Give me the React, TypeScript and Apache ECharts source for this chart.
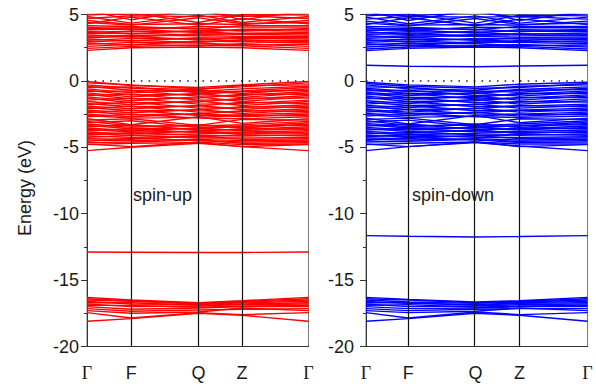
import React, { useEffect, useRef } from "react";
import * as echarts from "echarts";

// k-path labels and positions (fraction of path length) for each panel
const K_LABELS = ["Γ", "F", "Q", "Z", "Γ"];
const K_UP = [0, 0.2, 0.503, 0.7, 1];
const K_DOWN = [0, 0.191, 0.494, 0.693, 1];

// Band energies (eV) at Γ, F, Q, Z, Γ — spin-up
const UP_CONDUCTION = [
  [2.3, 2.5, 2.55, 2.5, 2.3],
  [2.45, 2.6, 2.7, 2.65, 2.45],
  [2.6, 2.75, 2.65, 2.8, 2.6],
  [2.75, 2.9, 2.85, 2.7, 2.75],
  [2.85, 2.7, 3.0, 2.95, 2.85],
  [2.95, 3.05, 2.9, 3.1, 2.95],
  [3.05, 3.2, 3.15, 3.0, 3.05],
  [3.15, 3.0, 3.25, 3.2, 3.15],
  [3.25, 3.35, 3.1, 3.3, 3.25],
  [3.35, 3.45, 3.4, 3.35, 3.35],
  [3.45, 3.3, 3.55, 3.5, 3.45],
  [3.55, 3.6, 3.45, 3.6, 3.55],
  [3.65, 3.75, 3.7, 3.55, 3.65],
  [3.75, 3.55, 3.8, 3.8, 3.75],
  [3.85, 3.9, 3.65, 3.9, 3.85],
  [3.95, 4.0, 3.95, 3.75, 3.95],
  [4.05, 3.85, 4.1, 4.05, 4.05],
  [4.15, 4.1, 3.9, 4.15, 4.15],
  [4.3, 4.8, 4.2, 4.7, 4.3],
  [4.4, 4.2, 4.75, 4.3, 4.4],
  [4.55, 4.25, 4.3, 4.25, 4.55],
  [4.7, 4.9, 4.85, 4.9, 4.7],
  [4.85, 4.35, 4.95, 4.4, 4.85],
  [4.95, 5.1, 4.4, 5.0, 4.95],
  [5.1, 4.95, 5.2, 4.85, 5.1],
  [5.3, 4.6, 5.4, 4.6, 5.3],
];
const UP_VALENCE = [
  [-0.05, -0.35, -0.5, -0.3, -0.05],
  [-0.15, -0.3, -0.6, -0.45, -0.15],
  [-0.3, -0.55, -0.65, -0.35, -0.3],
  [-0.4, -0.7, -0.8, -0.6, -0.4],
  [-0.5, -0.45, -0.9, -0.75, -0.5],
  [-0.6, -0.9, -0.7, -0.95, -0.6],
  [-0.7, -1.05, -1.0, -0.8, -0.7],
  [-0.8, -0.75, -1.15, -1.1, -0.8],
  [-0.9, -1.2, -0.95, -1.25, -0.9],
  [-1.0, -1.35, -1.3, -1.0, -1.0],
  [-1.1, -1.0, -1.45, -1.4, -1.1],
  [-1.2, -1.5, -1.2, -1.55, -1.2],
  [-1.3, -1.65, -1.6, -1.3, -1.3],
  [-1.45, -1.3, -1.75, -1.7, -1.45],
  [-1.55, -1.8, -1.5, -1.85, -1.55],
  [-1.7, -1.95, -1.9, -1.6, -1.7],
  [-1.8, -1.6, -2.05, -2.0, -1.8],
  [-1.9, -2.1, -1.85, -2.15, -1.9],
  [-2.0, -2.25, -2.2, -1.95, -2.0],
  [-2.1, -1.9, -2.35, -2.3, -2.1],
  [-2.2, -2.4, -2.15, -2.45, -2.2],
  [-2.3, -2.55, -2.5, -2.25, -2.3],
  [-2.4, -2.2, -2.6, -2.55, -2.4],
  [-2.5, -2.7, -2.45, -2.7, -2.5],
  [-2.6, -2.8, -2.75, -2.6, -2.6],
  [-2.7, -2.5, -2.8, -2.85, -2.7],
  [-2.85, -3.3, -2.7, -3.2, -2.85],
  [-2.95, -2.85, -3.35, -2.9, -2.95],
  [-3.05, -3.4, -3.4, -3.3, -3.05],
  [-3.15, -3.0, -3.5, -3.45, -3.15],
  [-3.25, -3.5, -3.3, -3.55, -3.25],
  [-3.35, -3.6, -3.6, -3.4, -3.35],
  [-3.45, -3.3, -3.7, -3.65, -3.45],
  [-3.55, -3.75, -3.55, -3.75, -3.55],
  [-3.65, -3.85, -3.8, -3.6, -3.65],
  [-3.75, -3.6, -3.9, -3.85, -3.75],
  [-3.85, -4.0, -3.75, -4.0, -3.85],
  [-3.95, -4.1, -4.0, -3.9, -3.95],
  [-4.05, -3.9, -4.1, -4.15, -4.05],
  [-4.15, -4.25, -4.2, -4.05, -4.15],
  [-4.25, -4.1, -4.3, -4.3, -4.25],
  [-4.35, -4.4, -4.15, -4.4, -4.35],
  [-4.45, -4.5, -4.4, -4.5, -4.45],
  [-4.55, -4.3, -4.5, -4.6, -4.55],
  [-4.65, -4.6, -4.45, -4.7, -4.65],
  [-4.75, -4.95, -4.6, -4.8, -4.75],
  [-4.8, -4.7, -4.65, -4.95, -4.8],
  [-5.25, -5.0, -4.7, -4.95, -5.25],
];
const UP_SEMICORE = [[-12.88, -12.9, -12.92, -12.92, -12.88]];
const UP_DEEP = [
  [-16.3, -16.5, -16.7, -16.55, -16.3],
  [-16.4, -16.55, -16.75, -16.6, -16.4],
  [-16.5, -16.6, -16.8, -16.65, -16.5],
  [-16.6, -16.8, -16.85, -16.7, -16.6],
  [-16.7, -16.7, -16.9, -16.8, -16.7],
  [-16.8, -17.0, -16.95, -16.85, -16.8],
  [-16.9, -16.9, -17.05, -16.95, -16.9],
  [-17.0, -17.2, -17.1, -17.0, -17.0],
  [-17.15, -17.35, -17.25, -17.2, -17.15],
  [-17.3, -17.5, -17.4, -17.1, -17.3],
  [-17.45, -17.85, -17.45, -17.6, -17.45],
  [-18.1, -17.9, -17.5, -17.65, -18.1],
];

// Spin-down
const DOWN_CONDUCTION = [
  [2.28, 2.45, 2.55, 2.5, 2.28],
  [2.4, 2.55, 2.65, 2.6, 2.4],
  [2.55, 2.7, 2.6, 2.75, 2.55],
  [2.7, 2.85, 2.8, 2.65, 2.7],
  [2.8, 2.65, 2.95, 2.9, 2.8],
  [2.9, 3.0, 2.85, 3.05, 2.9],
  [3.0, 3.15, 3.1, 2.95, 3.0],
  [3.1, 2.95, 3.2, 3.15, 3.1],
  [3.2, 3.3, 3.05, 3.25, 3.2],
  [3.3, 3.4, 3.35, 3.3, 3.3],
  [3.4, 3.25, 3.5, 3.45, 3.4],
  [3.5, 3.55, 3.4, 3.55, 3.5],
  [3.6, 3.7, 3.65, 3.5, 3.6],
  [3.7, 3.5, 3.75, 3.75, 3.7],
  [3.8, 3.85, 3.6, 3.85, 3.8],
  [3.9, 3.95, 3.9, 3.7, 3.9],
  [4.0, 3.8, 4.05, 4.0, 4.0],
  [4.1, 4.05, 3.85, 4.1, 4.1],
  [4.25, 4.75, 4.15, 4.65, 4.25],
  [4.35, 4.15, 4.7, 4.25, 4.35],
  [4.5, 4.2, 4.25, 4.2, 4.5],
  [4.65, 4.85, 4.8, 4.85, 4.65],
  [4.8, 4.3, 4.9, 4.35, 4.8],
  [4.9, 5.05, 4.35, 4.95, 4.9],
  [5.05, 4.9, 5.15, 4.8, 5.05],
  [5.25, 4.55, 5.35, 4.55, 5.25],
];
const DOWN_GAPSTATE = [[1.18, 1.1, 1.06, 1.12, 1.18]];
const DOWN_VALENCE = [
  [-0.1, -0.3, -0.45, -0.25, -0.1],
  [-0.2, -0.4, -0.55, -0.5, -0.2],
  [-0.3, -0.6, -0.7, -0.4, -0.3],
  [-0.45, -0.5, -0.85, -0.65, -0.45],
  [-0.55, -0.8, -0.75, -0.85, -0.55],
  [-0.65, -0.95, -0.95, -0.7, -0.65],
  [-0.75, -0.7, -1.1, -1.0, -0.75],
  [-0.85, -1.1, -0.9, -1.15, -0.85],
  [-0.95, -1.25, -1.25, -0.95, -0.95],
  [-1.05, -0.95, -1.35, -1.3, -1.05],
  [-1.15, -1.4, -1.15, -1.45, -1.15],
  [-1.25, -1.55, -1.5, -1.25, -1.25],
  [-1.35, -1.25, -1.65, -1.6, -1.35],
  [-1.5, -1.7, -1.4, -1.75, -1.5],
  [-1.6, -1.85, -1.8, -1.55, -1.6],
  [-1.75, -1.55, -1.95, -1.9, -1.75],
  [-1.85, -2.0, -1.75, -2.05, -1.85],
  [-1.95, -2.15, -2.1, -1.85, -1.95],
  [-2.05, -1.85, -2.25, -2.2, -2.05],
  [-2.15, -2.35, -2.05, -2.35, -2.15],
  [-2.25, -2.45, -2.4, -2.2, -2.25],
  [-2.35, -2.15, -2.5, -2.5, -2.35],
  [-2.45, -2.6, -2.35, -2.65, -2.45],
  [-2.55, -2.75, -2.65, -2.5, -2.55],
  [-2.65, -2.45, -2.7, -2.75, -2.65],
  [-2.8, -3.25, -2.6, -3.15, -2.8],
  [-2.9, -2.8, -3.3, -2.85, -2.9],
  [-3.0, -3.35, -3.35, -3.25, -3.0],
  [-3.1, -2.95, -3.45, -3.4, -3.1],
  [-3.2, -3.45, -3.25, -3.5, -3.2],
  [-3.3, -3.55, -3.55, -3.35, -3.3],
  [-3.4, -3.25, -3.65, -3.6, -3.4],
  [-3.5, -3.7, -3.5, -3.7, -3.5],
  [-3.6, -3.8, -3.75, -3.55, -3.6],
  [-3.7, -3.55, -3.85, -3.8, -3.7],
  [-3.8, -3.95, -3.7, -3.95, -3.8],
  [-3.9, -4.05, -3.95, -3.85, -3.9],
  [-4.0, -3.85, -4.05, -4.1, -4.0],
  [-4.1, -4.2, -4.15, -4.0, -4.1],
  [-4.2, -4.05, -4.25, -4.25, -4.2],
  [-4.3, -4.35, -4.1, -4.35, -4.3],
  [-4.4, -4.45, -4.35, -4.45, -4.4],
  [-4.5, -4.25, -4.45, -4.55, -4.5],
  [-4.6, -4.55, -4.4, -4.65, -4.6],
  [-4.75, -4.95, -4.6, -4.75, -4.75],
  [-4.8, -4.7, -4.6, -4.95, -4.8],
  [-5.25, -4.95, -4.65, -4.9, -5.25],
];
const DOWN_SEMICORE = [[-11.65, -11.7, -11.75, -11.72, -11.65]];
const DOWN_DEEP = [
  [-16.3, -16.45, -16.65, -16.55, -16.3],
  [-16.4, -16.5, -16.7, -16.6, -16.4],
  [-16.5, -16.65, -16.75, -16.65, -16.5],
  [-16.6, -16.75, -16.85, -16.7, -16.6],
  [-16.7, -16.7, -16.9, -16.75, -16.7],
  [-16.8, -17.0, -16.95, -16.85, -16.8],
  [-16.9, -16.85, -17.05, -16.95, -16.9],
  [-17.0, -17.15, -17.1, -17.0, -17.0],
  [-17.15, -17.3, -17.2, -17.15, -17.15],
  [-17.3, -17.45, -17.35, -17.1, -17.3],
  [-17.45, -17.85, -17.4, -17.6, -17.45],
  [-18.1, -17.9, -17.5, -17.65, -18.1],
];

const Y_MIN = -20;
const Y_MAX = 5;
const Y_STEP = 5;

const TEXT_COLOR = "#1a1a1a";
const FONT = "Liberation Sans";

function bandSeries(bands: number[][], k: number[], idx: number, color: string) {
  return bands.map((b) => ({
    type: "line",
    xAxisIndex: idx,
    yAxisIndex: idx,
    data: b.map((e, i) => [k[i], e]),
    symbol: "none",
    silent: true,
    clip: true,
    lineStyle: { color, width: 1.4 },
    z: 2,
  }));
}

function guideSeries(k: number[], idx: number) {
  return {
    type: "line",
    xAxisIndex: idx,
    yAxisIndex: idx,
    data: [] as number[][],
    symbol: "none",
    silent: true,
    z: 5,
    markLine: {
      silent: true,
      symbol: "none",
      label: { show: false },
      animation: false,
      data: [
        ...k.slice(1, 4).map((x) => ({
          xAxis: x,
          lineStyle: { color: "#111", width: 1.2, type: "solid" },
        })),
        { yAxis: 0, lineStyle: { color: "#222", width: 1.6, type: [1.6, 6.1] } },
      ],
    },
  };
}

function xAxisFor(k: number[], idx: number) {
  return {
    gridIndex: idx,
    type: "value",
    min: 0,
    max: 1,
    axisLine: { show: true, onZero: false, lineStyle: { color: "#333", width: 1 } },
    axisTick: { show: false },
    splitLine: { show: false },
    axisLabel: {
      customValues: k,
      margin: 17,
      fontSize: 18,
      fontFamily: FONT,
      color: TEXT_COLOR,
      formatter: (v: number) => {
        const i = k.findIndex((x) => Math.abs(x - v) < 1e-6);
        const l = K_LABELS[i] ?? "";
        return l === "Γ" ? "{g|Γ}" : l;
      },
      rich: {
        g: { fontFamily: "Liberation Serif", fontSize: 18, color: TEXT_COLOR },
      },
    },
  };
}

function yAxisFor(idx: number, margin: number) {
  return {
    gridIndex: idx,
    type: "value",
    min: Y_MIN,
    max: Y_MAX,
    interval: Y_STEP,
    axisLine: { show: true, onZero: false, lineStyle: { color: "#333", width: 1 } },
    axisTick: { show: true, length: 6, lineStyle: { color: "#333" } },
    minorTick: { show: true, splitNumber: 2, length: 3, lineStyle: { color: "#333" } },
    splitLine: { show: false },
    axisLabel: { fontSize: 18, fontFamily: FONT, color: TEXT_COLOR, margin },
  };
}

export default function App() {
  const ref = useRef<HTMLDivElement>(null);
  useEffect(() => {
    if (!ref.current) return;
    const chart = echarts.init(ref.current, undefined, { renderer: "svg" });
    const gridBase = {
      top: 14.5,
      height: 332,
      width: 221.5,
      show: true,
      borderColor: "#777",
      borderWidth: 1,
      backgroundColor: "transparent",
    };
    chart.setOption({
      animation: false,
      backgroundColor: "#ffffff",
      textStyle: { fontFamily: FONT },
      grid: [
        { ...gridBase, left: 87 },
        { ...gridBase, left: 366 },
      ],
      xAxis: [xAxisFor(K_UP, 0), xAxisFor(K_DOWN, 1)],
      yAxis: [yAxisFor(0, 8), yAxisFor(1, 12)],
      series: [
        ...bandSeries(UP_DEEP, K_UP, 0, "#ff0000"),
        ...bandSeries(UP_SEMICORE, K_UP, 0, "#ff0000"),
        ...bandSeries(UP_VALENCE, K_UP, 0, "#ff0000"),
        ...bandSeries(UP_CONDUCTION, K_UP, 0, "#ff0000"),
        guideSeries(K_UP, 0),
        ...bandSeries(DOWN_DEEP, K_DOWN, 1, "#0000ff"),
        ...bandSeries(DOWN_SEMICORE, K_DOWN, 1, "#0000ff"),
        ...bandSeries(DOWN_VALENCE, K_DOWN, 1, "#0000ff"),
        ...bandSeries(DOWN_GAPSTATE, K_DOWN, 1, "#0000ff"),
        ...bandSeries(DOWN_CONDUCTION, K_DOWN, 1, "#0000ff"),
        guideSeries(K_DOWN, 1),
      ],
      graphic: [
        {
          type: "text",
          x: 25,
          y: 188,
          rotation: Math.PI / 2,
          style: {
            text: "Energy (eV)",
            fontSize: 18,
            fontFamily: FONT,
            fill: TEXT_COLOR,
            align: "center",
            verticalAlign: "middle",
          },
        },
        {
          type: "text",
          x: 133,
          y: 195,
          style: {
            text: "spin-up",
            fontSize: 18,
            fontFamily: FONT,
            fill: TEXT_COLOR,
            align: "left",
            verticalAlign: "middle",
          },
        },
        {
          type: "text",
          x: 412,
          y: 195,
          style: {
            text: "spin-down",
            fontSize: 18,
            fontFamily: FONT,
            fill: TEXT_COLOR,
            align: "left",
            verticalAlign: "middle",
          },
        },
      ],
    });
    return () => chart.dispose();
  }, []);
  return (
    <div
      ref={ref}
      style={{ position: "fixed", left: 0, top: 0, width: 596, height: 386, background: "#fff" }}
    />
  );
}
